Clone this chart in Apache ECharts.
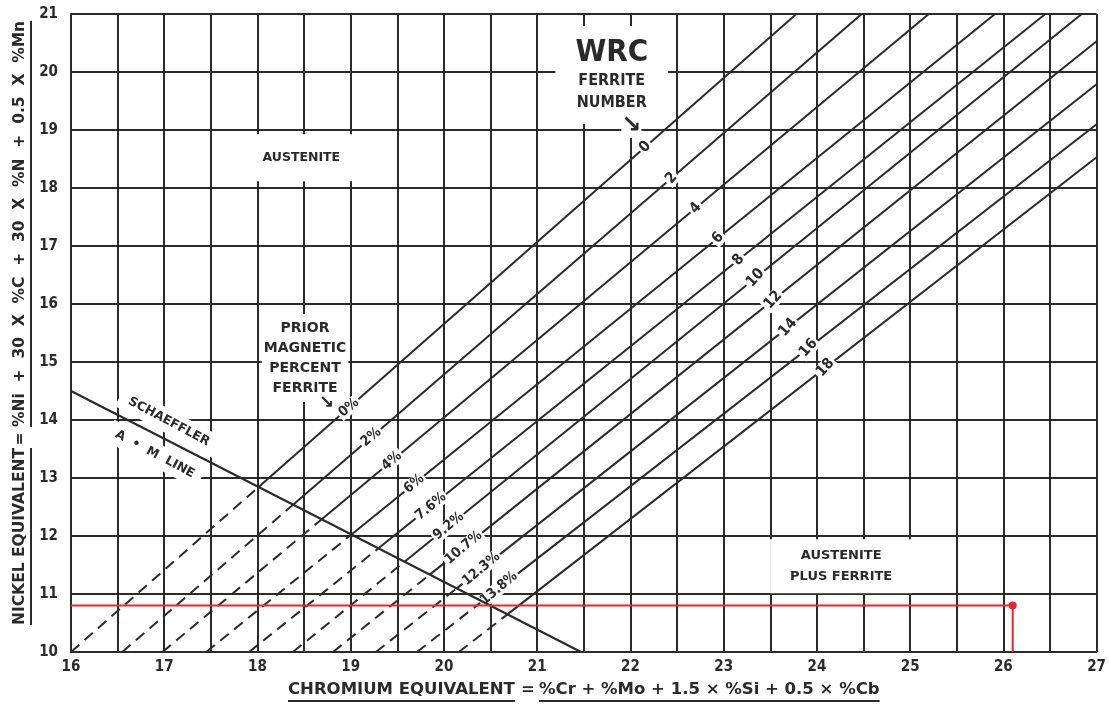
<!DOCTYPE html>
<html>
<head>
<meta charset="utf-8">
<title>WRC ferrite diagram</title>
<script src="https://cdn.jsdelivr.net/npm/echarts@6/dist/echarts.min.js"></script>
<style>
  html, body { margin: 0; padding: 0; background: #fff; }
  #chart { width: 1109px; height: 706px; }
</style>
</head>
<body>
<div id="chart"></div>
<script>
// ============================================
// WRC ferrite number diagram (DeLong type)
// ============================================

// axis ticks
const crTicks = [16, 17, 18, 19, 20, 21, 22, 23, 24, 25, 26, 27];
const niTicks = [10, 11, 12, 13, 14, 15, 16, 17, 18, 19, 20, 21];

// iso-ferrite lines: Cr eq where each leaves Ni eq = 10, and where it meets the frame
const ferriteNumbers = [0, 2, 4, 6, 8, 10, 12, 14, 16, 18];
const percentFerrite = ['0%', '2%', '4%', '6%', '7.6%', '9.2%', '10.7%', '12.3%', '13.8%'];
const lineStartCr = [16.0, 16.55, 16.98, 17.45, 17.91, 18.38, 18.81, 19.27, 19.71, 20.16];
const lineEndCr   = [23.78, 24.48, 25.2, 25.91, 26.45, 26.84, 27, 27, 27, 27];
const lineEndNi   = [21, 21, 21, 21, 21, 21, 20.53, 19.79, 19.1, 18.53];

// where the labels sit along each line (Cr eq)
const percentLabelCr = [18.98, 19.22, 19.44, 19.68, 19.86, 20.05, 20.21, 20.40, 20.59];
const fnLabelCr = [22.16, 22.44, 22.70, 22.94, 23.16, 23.34, 23.53, 23.69, 23.91, 24.09];

// Schaeffler A + M line
const schaefflerCr = [16, 21.47];
const schaefflerNi = [14.5, 10];

// plotted weld
const weldCr = 26.1;
const weldNi = 10.8;

const INK = '#2a2a2a';
const RED = '#e8262b';
const WIDE = '"DejaVu Sans", sans-serif';
const NARROW = '"DejaVu Sans Condensed", "Liberation Sans Narrow", sans-serif';
const HIDDEN = { color: 'rgba(0,0,0,0)', opacity: 1 };

function slopeOf(i) {
    return (lineEndNi[i] - 10) / (lineEndCr[i] - lineStartCr[i]);
}

function niOnLine(i, cr) {
    return 10 + slopeOf(i) * (cr - lineStartCr[i]);
}

// crossing with the Schaeffler line: dashed below it, solid above
function schaefflerCrossing(i) {
    const s = slopeOf(i);
    const m = (schaefflerNi[1] - schaefflerNi[0]) / (schaefflerCr[1] - schaefflerCr[0]);
    const x = (schaefflerNi[0] - m * schaefflerCr[0] - 10 + s * lineStartCr[i]) / (s - m);
    return [x, niOnLine(i, x)];
}

function textWidth(str, font) {
    const ctx = document.createElement('canvas').getContext('2d');
    ctx.font = font;
    return ctx.measureText(str).width;
}

const series = [];

ferriteNumbers.forEach((fn, i) => {
    const start = [lineStartCr[i], 10];
    const cross = schaefflerCrossing(i);
    const end = [lineEndCr[i], lineEndNi[i]];
    series.push({
        type: 'line', data: [start, cross], symbol: 'none', silent: true, z: 3,
        lineStyle: { color: INK, width: 2, type: [11, 7] }
    });
    series.push({
        type: 'line', data: [cross, end], symbol: 'none', silent: true, z: 3,
        lineStyle: { color: INK, width: 2 }
    });
});

// drawn above the caption boxes so it stays unbroken
series.push({
    type: 'line',
    data: schaefflerCr.map((c, k) => [c, schaefflerNi[k]]),
    symbol: 'none', silent: true, z: 7,
    lineStyle: { color: INK, width: 2.2 }
});

// line labels (white box cuts the line like the printed chart)
const lineLabel = {
    show: true, position: 'inside', color: INK, fontFamily: NARROW,
    fontWeight: 'bold', backgroundColor: '#fff', padding: [0, 2]
};
const labelData = [];
percentFerrite.forEach((txt, i) => {
    labelData.push({
        value: [percentLabelCr[i], niOnLine(i, percentLabelCr[i])],
        label: { ...lineLabel, formatter: txt, rotate: 40, fontSize: 14 }
    });
});
ferriteNumbers.forEach((fn, i) => {
    labelData.push({
        value: [fnLabelCr[i], niOnLine(i, fnLabelCr[i])],
        label: { ...lineLabel, formatter: String(fn), rotate: 48, fontSize: 15 }
    });
});
series.push({
    type: 'scatter', data: labelData, symbolSize: 1, silent: true, z: 6, itemStyle: HIDDEN
});

// region captions
const caption = { show: true, position: 'inside', color: INK, fontFamily: WIDE, fontWeight: 'bold', backgroundColor: '#fff' };
series.push({
    type: 'scatter', symbolSize: 1, silent: true, z: 6, itemStyle: HIDDEN,
    data: [
        { value: [18.47, 18.52], label: { ...caption, formatter: 'AUSTENITE', fontSize: 12.5, padding: [17, 14] } },
        { value: [24.26, 11.48], label: { ...caption, formatter: 'AUSTENITE\nPLUS FERRITE', fontSize: 13, lineHeight: 21, align: 'center', padding: [6, 20] } },
        { value: [18.51, 15.07], label: { ...caption, formatter: 'PRIOR\nMAGNETIC\nPERCENT\nFERRITE', fontSize: 14, lineHeight: 20, align: 'center', padding: [4, 2] } },
        { value: [21.80, 19.95], label: {
            ...caption, formatter: '{w|WRC}\n{s|FERRITE}\n{s|NUMBER}', padding: [10, 20], align: 'center',
            rich: {
                w: { fontSize: 31, lineHeight: 34, fontWeight: 'bold', fontFamily: NARROW, color: INK, align: 'center' },
                s: { fontSize: 16, lineHeight: 22, fontWeight: 'bold', fontFamily: NARROW, color: INK, align: 'center' }
            }
        } },
        { value: [22.01, 19.07], label: { ...caption, formatter: '↘', fontSize: 24, padding: [0, 0] } },
        { value: [18.74, 14.29], label: { ...caption, formatter: '↘', fontSize: 18, padding: [0, 0] } },
        { value: [17.05, 13.97], label: { ...caption, formatter: 'SCHAEFFLER', fontSize: 12.5, rotate: -28, padding: [5, 10] } },
        { value: [16.90, 13.41], label: { ...caption, formatter: 'A  •  M  LINE', fontSize: 12.5, rotate: -28, padding: [5, 8] } }
    ]
});

// plotted weld composition
series.push({
    type: 'line',
    data: [[crTicks[0], weldNi], [weldCr, weldNi], [weldCr, niTicks[0]]],
    symbol: 'none', silent: true, z: 9,
    lineStyle: { color: RED, width: 2 }
});
series.push({
    type: 'scatter', data: [[weldCr, weldNi]], symbolSize: 8, silent: true, z: 10,
    itemStyle: { color: RED, opacity: 1 }
});

// axis titles with their underlines
const xParts = ['CHROMIUM EQUIVALENT', '=', '%Cr + %Mo + 1.5 × %Si + 0.5 × %Cb'];
const yParts = ['NICKEL EQUIVALENT', '=', '%Ni  +  30  X  %C  +  30  X  %N  +  0.5  X  %Mn'];

function titleGroup(parts, font, x, y, rotation, eqAt, formulaAt) {
    const w1 = textWidth(parts[0], font);
    const w3 = textWidth(parts[2], font);
    const txt = (s, px, align) => ({
        type: 'text', x: px, y: 0,
        style: { text: s, font: font, fill: INK, textAlign: align, align: align, textVerticalAlign: 'middle', verticalAlign: 'middle' }
    });
    const rule = (x1, x2) => ({
        type: 'line', shape: { x1: x1, y1: 11, x2: x2, y2: 11 },
        style: { stroke: INK, lineWidth: 2 }
    });
    return {
        type: 'group', x: x, y: y, rotation: rotation,
        children: [
            txt(parts[0], 0, 'left'),
            txt(parts[1], eqAt, 'center'),
            txt(parts[2], formulaAt, 'left'),
            rule(0, w1),
            rule(formulaAt, formulaAt + w3)
        ]
    };
}

const option = {
    animation: false,
    backgroundColor: '#fff',
    grid: { left: 71, right: 11, top: 14, bottom: 54 },
    xAxis: {
        type: 'value', min: 16, max: 27, interval: 0.5,
        axisLine: { show: true, lineStyle: { color: INK, width: 2 } },
        axisTick: { show: false },
        splitLine: { show: true, lineStyle: { color: INK, width: 2 } },
        axisLabel: {
            formatter: v => crTicks.includes(v) ? String(v) : '',
            margin: 8, color: INK, fontFamily: NARROW, fontWeight: 'bold', fontSize: 15
        }
    },
    yAxis: {
        type: 'value', min: 10, max: 21, interval: 1,
        axisLine: { show: true, lineStyle: { color: INK, width: 2 } },
        axisTick: { show: false },
        splitLine: { show: true, lineStyle: { color: INK, width: 2 } },
        axisLabel: {
            formatter: v => niTicks.includes(v) ? String(v) : '',
            margin: 13, color: INK, fontFamily: NARROW, fontWeight: 'bold', fontSize: 15
        }
    },
    graphic: [
        titleGroup(xParts, 'bold 16.5px "DejaVu Sans"', 288, 690, 0, 240, 251),
        titleGroup(yParts, 'bold 15.5px "DejaVu Sans"', 20, 625, Math.PI / 2, 186, 198)
    ],
    series: series
};

const chart = echarts.init(document.getElementById('chart'));
chart.setOption(option);
</script>
</body>
</html>
